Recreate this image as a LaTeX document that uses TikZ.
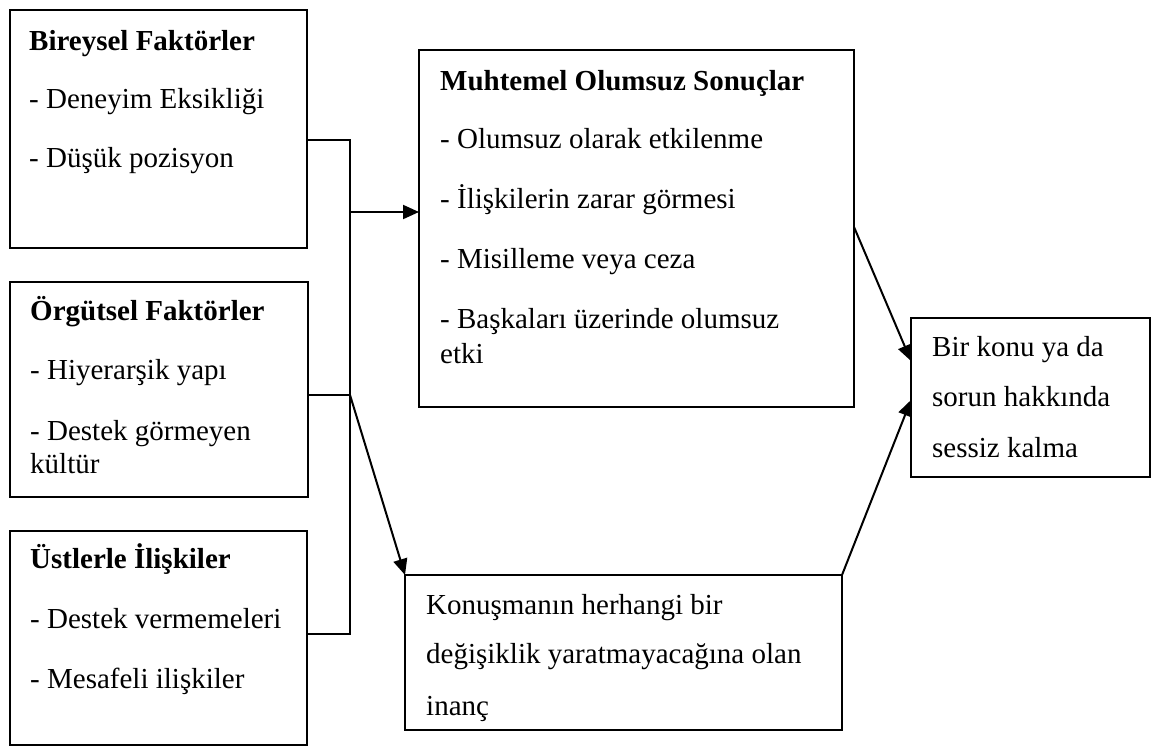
\documentclass[tikz,border=0pt]{standalone}
\usepackage{fontspec}
\setmainfont{Liberation Serif}
\usetikzlibrary{arrows.meta,calc}
\tikzset{
  box/.style={draw, line width=2pt, rectangle, anchor=north west, inner sep=0pt, outer sep=0pt},
  txt/.style={anchor=base west, inner sep=0pt, font=\fontsize{29}{35}\selectfont},
  hd/.style={anchor=base west, inner sep=0pt, font=\fontsize{29}{35}\selectfont\bfseries},
  conn/.style={line width=2pt},
  arr/.style={line width=2pt, -{Triangle[length=16pt,width=14pt]}}
}
\begin{document}
\begin{tikzpicture}[x=1pt,y=-1pt]
\useasboundingbox (0,0) rectangle (1153,747);
% boxes
\node[box, minimum width=297pt, minimum height=238pt] (b1) at (10,10) {};
\node[box, minimum width=298pt, minimum height=215pt] (b2) at (10,282) {};
\node[box, minimum width=297pt, minimum height=214pt] (b3) at (10,531) {};
\node[box, minimum width=435pt, minimum height=357pt] (muh) at (419,50) {};
\node[box, minimum width=437pt, minimum height=155pt] (kon) at (405,575) {};
\node[box, minimum width=239pt, minimum height=159pt] (res) at (911,318) {};
% texts box 1
\node[hd] (b1h) at (29,50) {Bireysel Faktörler};
\node[txt] (b1a) at (29,108) {- Deneyim Eksikliği};
\node[txt] (b1b) at (29,167) {- Düşük pozisyon};
% box 2
\node[hd] (b2h) at (30,320) {Örgütsel Faktörler};
\node[txt] (b2a) at (30,379) {- Hiyerarşik yapı};
\node[txt] (b2b) at (30,440) {- Destek görmeyen};
\node[txt] (b2c) at (30,473) {kültür};
% box 3
\node[hd] (b3h) at (30,568) {Üstlerle İlişkiler};
\node[txt] (b3a) at (30,628) {- Destek vermemeleri};
\node[txt] (b3b) at (30,688) {- Mesafeli ilişkiler};
% muhtemel
\node[hd] (mh) at (440,90) {Muhtemel Olumsuz Sonuçlar};
\node[txt] (ma) at (440,148) {- Olumsuz olarak etkilenme};
\node[txt] (mb) at (440,208) {- İlişkilerin zarar görmesi};
\node[txt] (mc) at (440,268) {- Misilleme veya ceza};
\node[txt] (md) at (440,328) {- Başkaları üzerinde olumsuz};
\node[txt] (me) at (440,363) {etki};
% result
\node[txt] (ra) at (932,356) {Bir konu ya da};
\node[txt] (rb) at (932,406) {sorun hakkında};
\node[txt] (rc) at (932,457) {sessiz kalma};
% konusma
\node[txt] (ka) at (426,614) {Konuşmanın herhangi bir};
\node[txt] (kb) at (426,663) {değişiklik yaratmayacağına olan};
\node[txt] (kc) at (426,715) {inanç};
% connectors
\coordinate (j1) at (350,140);
\coordinate (j2) at (350,395);
\coordinate (j3) at (350,634);
\coordinate (ja) at (350,212);
\draw[conn] (b1.east |- j1) -- (j1) -- (j3) -- (b3.east |- j3);
\draw[conn] (b2.east |- j2) -- (j2);
\draw[arr] (ja) -- (muh.west |- ja);
\draw[arr] (j2) -- (kon.north west);
\draw[arr] ($(muh.north east)+(0,177)$) -- ($(res.north west)+(0,43)$);
\draw[arr] (kon.north east) -- ($(res.north west)+(0,82)$);
\end{tikzpicture}
\end{document}
